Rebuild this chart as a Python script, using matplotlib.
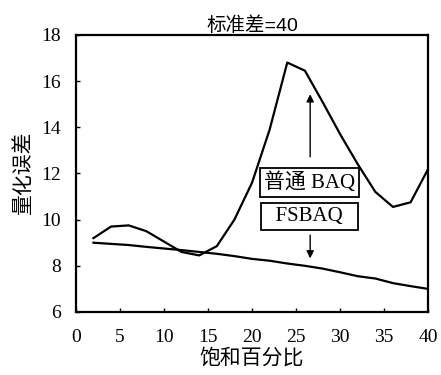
import numpy as np
import matplotlib
matplotlib.use("Agg")
import matplotlib.pyplot as plt

plt.rcParams['font.family'] = ['Liberation Serif', 'Noto Sans CJK SC']

# 饱和百分比 (%)
saturation = [2, 4, 6, 8, 10, 12, 14, 16, 18, 20,
              22, 24, 26, 28, 30, 32, 34, 36, 38, 40]
# 普通 BAQ 量化误差
err_baq = [9.2, 9.7, 9.75, 9.5, 9.05, 8.6, 8.45, 8.85, 10.0, 11.6,
           13.9, 16.8, 16.45, 15.1, 13.7, 12.4, 11.2, 10.55, 10.75, 12.2]
# FSBAQ 量化误差
err_fsbaq = [9.0, 8.95, 8.9, 8.82, 8.75, 8.68, 8.6, 8.52, 8.42, 8.3,
             8.22, 8.1, 8.0, 7.88, 7.72, 7.55, 7.45, 7.25, 7.12, 7.0]

fig = plt.figure(figsize=(4.41, 3.75), dpi=100)
ax = fig.add_axes([0.172, 0.168, 0.799, 0.739])

ax.plot(saturation, err_baq, color='black', lw=1.6)
ax.plot(saturation, err_fsbaq, color='black', lw=1.6)

ax.set_xlim(0, 40)
ax.set_ylim(6, 18)
ax.set_xticks(np.arange(0, 41, 5))
ax.set_yticks(np.arange(6, 19, 2))
ax.tick_params(direction='in', length=3, labelsize=14, width=1)
ax.tick_params(axis='x', pad=12)
ax.tick_params(axis='y', pad=11)
for s in ax.spines.values():
    s.set_linewidth(1.6)

ax.set_title('标准差=40', fontsize=14, pad=2,
             family=['Liberation Sans', 'Noto Sans CJK SC'])
ax.set_xlabel('饱和百分比', fontsize=15, labelpad=2)
ax.set_ylabel('量化误差', fontsize=15, labelpad=5)

# labels and arrows pointing to each curve
box = dict(boxstyle='square,pad=0.2', fc='white', ec='black', lw=1.3)
ax.text(26.5, 11.6, '普通 BAQ', fontsize=15, ha='center', va='center', bbox=box)
ax.text(26.5, 10.14, '  FSBAQ  ', fontsize=15, ha='center', va='center', bbox=box)
ax.annotate('', xy=(26.6, 15.55), xytext=(26.6, 12.6),
            arrowprops=dict(arrowstyle='-|>', color='black', lw=1, mutation_scale=11))
ax.annotate('', xy=(26.6, 8.2), xytext=(26.6, 9.45),
            arrowprops=dict(arrowstyle='-|>', color='black', lw=1, mutation_scale=11))

fig.savefig('out.png', dpi=100)
